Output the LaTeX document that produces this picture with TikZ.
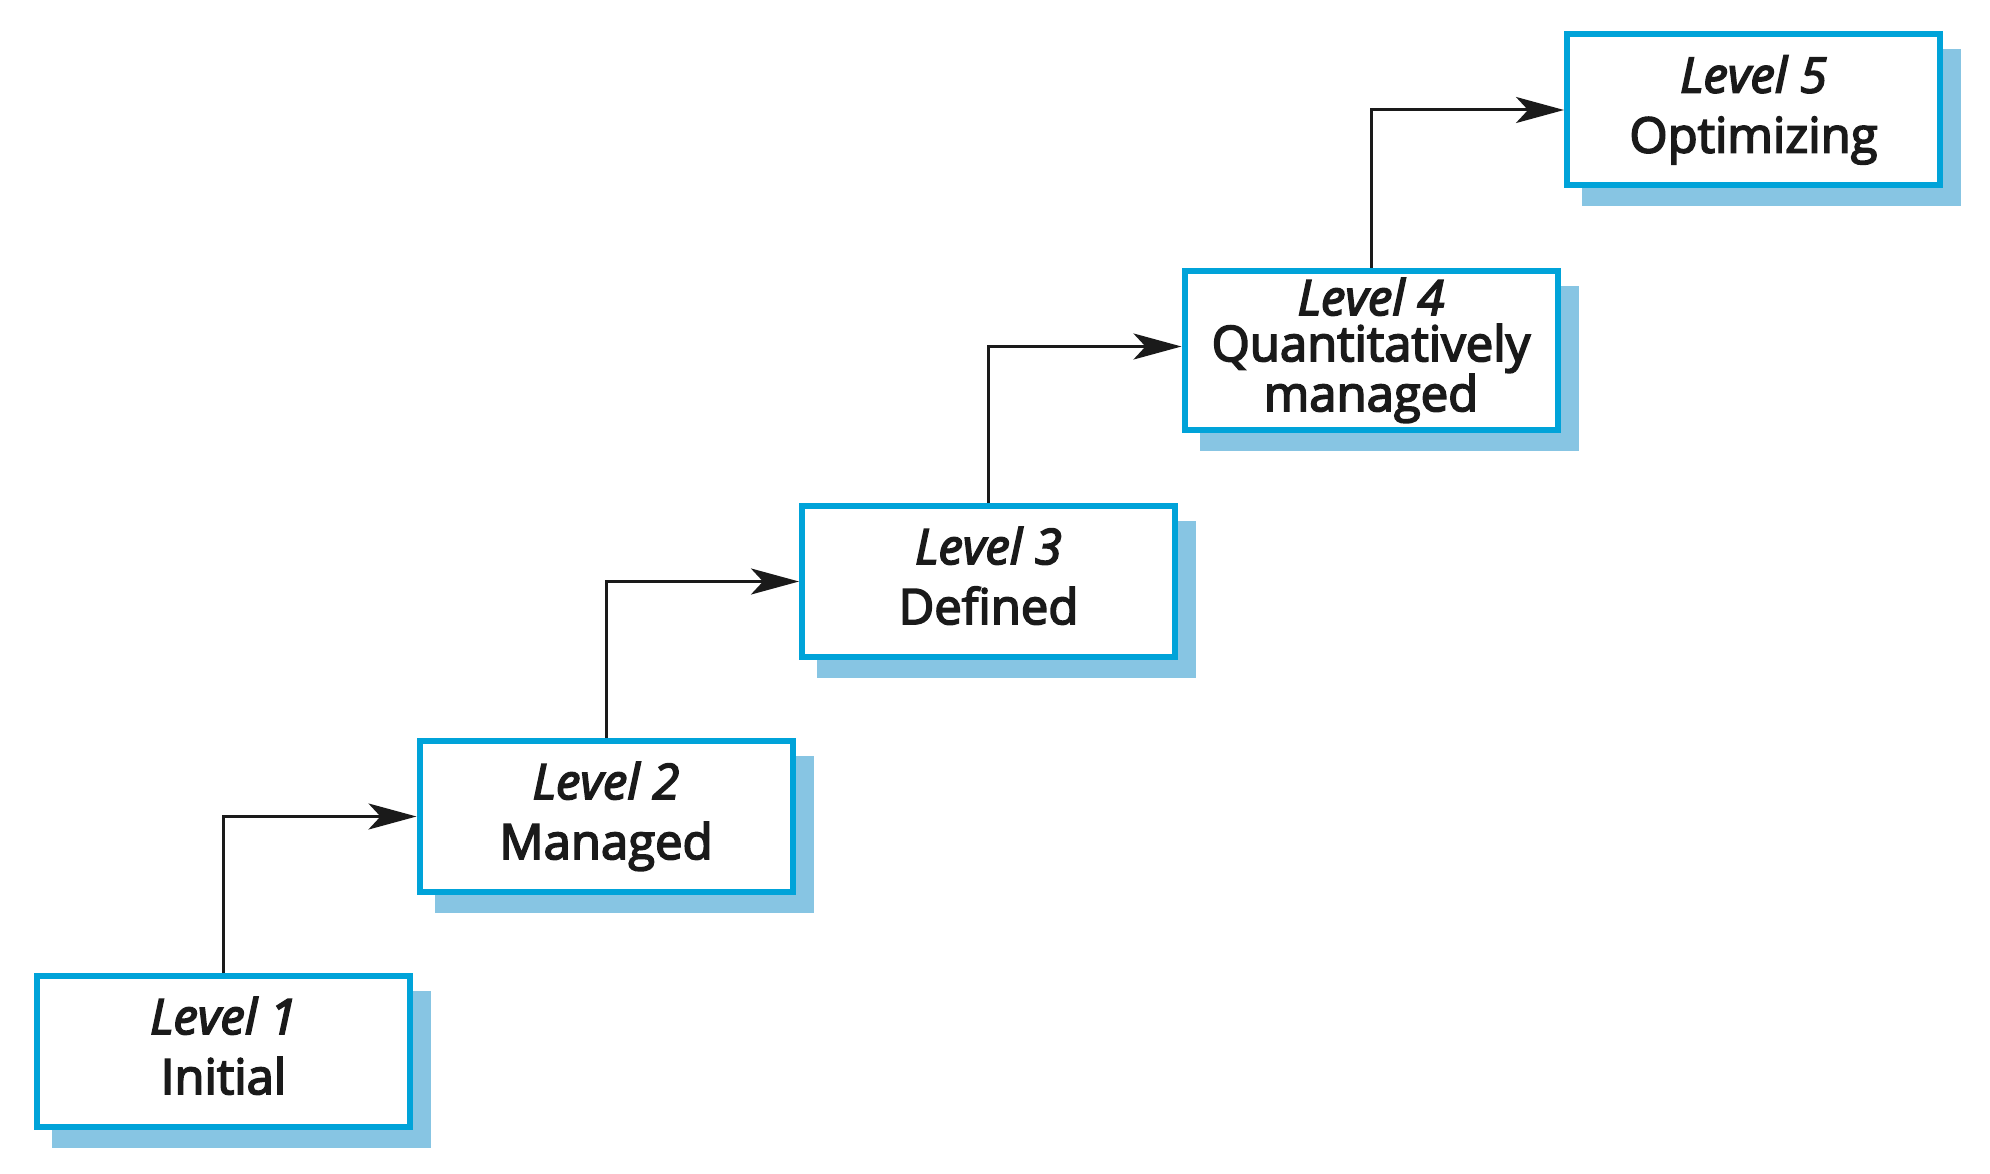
\documentclass[tikz,border=0pt]{standalone}
\usepackage{fontspec}
\newfontfamily\lblfont{Open Sans}[FakeBold=3.5]
\usetikzlibrary{arrows.meta,backgrounds}
\definecolor{boxblue}{HTML}{00A3D9}
\definecolor{shadowblue}{HTML}{87C5E3}
\definecolor{inkc}{HTML}{1A1A1A}
\tikzset{
  lvl/.style={draw=boxblue, line width=6pt, fill=white, minimum width=373pt,
    minimum height=151pt, inner sep=0pt, align=center, text=inkc, text depth=12pt,
    font=\lblfont\fontsize{49}{60}\selectfont},
  conn/.style={draw=inkc, line width=3pt,
    -{Stealth[length=48pt,width=26pt,inset=12pt]}},
  shade/.style={fill=shadowblue}
}
\begin{document}
\begin{tikzpicture}[x=1pt,y=-1pt]
\useasboundingbox (0,0) rectangle (1990,1174);
\node[lvl] (b1) at (223.5,1051.5) {\textit{Level 1}\\Initial};
\node[lvl] (b2) at (606,816.5) {\textit{Level 2}\\Managed};
\node[lvl] (b3) at (988.5,581.5) {\textit{Level 3}\\Defined};
\node[lvl, minimum height=159pt, font=\lblfont\fontsize{49}{46}\selectfont] (b4) at (1371,350.5) {\textit{Level 4}\\Quantitatively\\managed};
\node[lvl] (b5) at (1753.5,110) {\textit{Level 5}\\Optimizing};
\begin{scope}[on background layer]
\foreach \n in {b1,b2,b3,b4,b5}
  \fill[shade] ([shift={(18,18)}]\n.north west) rectangle ([shift={(18,18)}]\n.south east);
\end{scope}
\draw[conn] (b1.north) |- (b2.west);
\draw[conn] (b2.north) |- (b3.west);
\draw[conn] (b3.north) |- ([yshift=4pt]b4.west);
\draw[conn] (b4.north) |- (b5.west);
\end{tikzpicture}
\end{document}
